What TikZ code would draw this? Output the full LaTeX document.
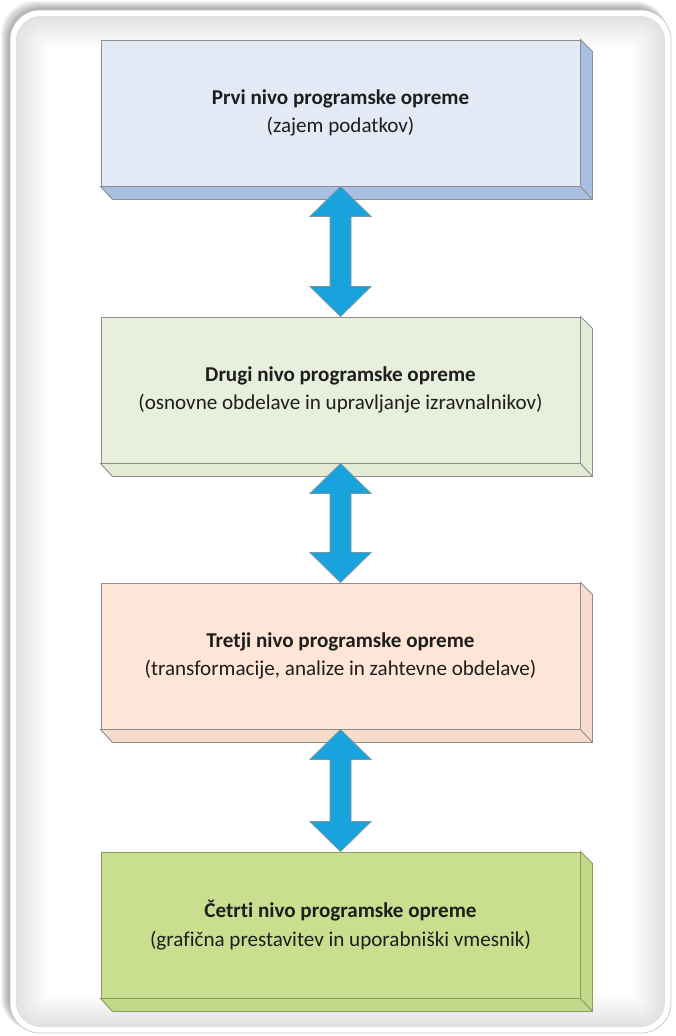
\documentclass[tikz,border=0pt]{standalone}
\usepackage{fontspec}
\setmainfont{Carlito}[Ligatures=NoCommon]
\usetikzlibrary{calc}

\definecolor{prvifront}{HTML}{E3EAF6}
\definecolor{prviside}{HTML}{A8BFE2}
\definecolor{drugifront}{HTML}{E8EFDC}
\definecolor{drugiside}{HTML}{E3EBD5}
\definecolor{tretjifront}{HTML}{FDE6D8}
\definecolor{tretjiside}{HTML}{F8DCCB}
\definecolor{cetrtifront}{HTML}{C9DF8F}
\definecolor{cetrtiside}{HTML}{C3D989}
\definecolor{arrowblue}{HTML}{19A3DC}
\definecolor{arrowedge}{HTML}{7896A6}
\definecolor{edgegray}{HTML}{8E8E8E}
\definecolor{edgegreen}{HTML}{8A9B5E}
\definecolor{textgray}{HTML}{1E1E1E}

% side and bottom faces of a level box: node, fill, edge colour
\newcommand{\extrude}[3]{%
	\filldraw[fill=#2, draw=#3, line width=0.8pt] (#1.north east) -- ++(12,12) -- ($(#1.south east)+(12,13)$) -- ($(#1.south west)+(12,13)$) -- (#1.south west) -- (#1.south east) -- cycle;
	\draw[#3, line width=0.8pt] (#1.south east) -- ++(12,13);
}

% thick two-headed arrow between two level boxes
\newcommand{\fatarrow}[2]{%
	\filldraw[fill=arrowblue, draw=arrowedge, line width=0.7pt] (#1.south) -- ++(30.5,30) -- ++(-20,0) -- ($(#2.north)+(10.5,-30)$) -- ++(20,0) -- (#2.north) -- ++(-30.5,-30) -- ++(20,0) -- ($(#1.south)+(-10.5,30)$) -- ++(-20,0) -- cycle;
}

\begin{document}
\begin{tikzpicture}[x=0.03cm, y=-0.03cm]
		\tikzstyle{levelbox} = [rectangle,draw=edgegray,line width=0.8pt,minimum width=14.37cm,minimum height=4.38cm,inner sep=0pt,align=center,text=textgray,font=\fontsize{18}{24.5}\selectfont]
		\useasboundingbox (0,0) rectangle (676,1036);

		% frame with its shadow
		\foreach \i in {0,...,9}
			\fill[black, opacity=0.045, rounded corners=10mm] (1+\i,1+\i) rectangle (668,1030);
		\filldraw[fill=white, draw=gray!45, line width=0.6pt, rounded corners=9mm] (10,10) rectangle (671,1033);
		\foreach \i [evaluate=\i as \g using 12-0.75*\i, evaluate=\i as \r using 0.3*(24-1.5*\i)] in {0,...,15}
			\draw[black!\g, line width=1.8pt, rounded corners=\r mm] (17+2*\i,17+2*\i) rectangle (664-2*\i,1026-2*\i);

		% the four levels
		\node[levelbox, fill=prvifront] (prvi) at (340.5,113) {\textbf{Prvi nivo programske opreme}\\(zajem podatkov)};
		\node[levelbox, fill=drugifront] (drugi) at (340.5,390) {\textbf{Drugi nivo programske opreme}\\(osnovne obdelave in upravljanje izravnalnikov)};
		\node[levelbox, fill=tretjifront] (tretji) at (340.5,656) {\textbf{Tretji nivo programske opreme}\\(transformacije, analize in zahtevne obdelave)};
		\node[levelbox, fill=cetrtifront, draw=edgegreen] (cetrti) at (340.5,925) {\textbf{Četrti nivo programske opreme}\\(grafična prestavitev in uporabniški vmesnik)};

		\extrude{prvi}{prviside}{edgegray}
		\extrude{drugi}{drugiside}{edgegray}
		\extrude{tretji}{tretjiside}{edgegray}
		\extrude{cetrti}{cetrtiside}{edgegreen}

		\fatarrow{prvi}{drugi}
		\fatarrow{drugi}{tretji}
		\fatarrow{tretji}{cetrti}
	\end{tikzpicture}
\end{document}
